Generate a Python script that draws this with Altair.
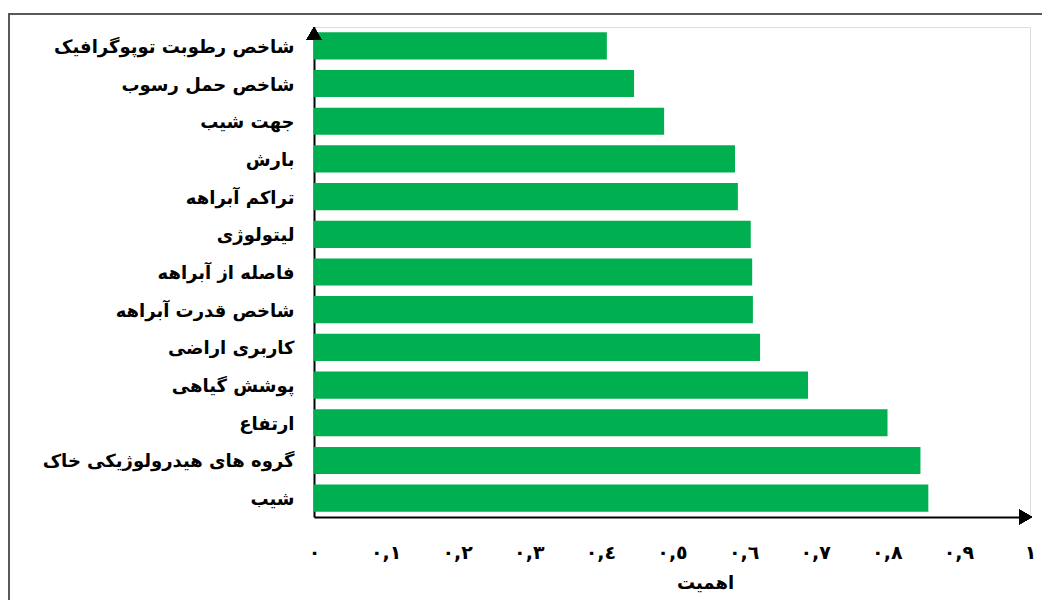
import json
import altair as alt
import pandas as pd

# --- data ---
CATEGORIES = [
    "شاخص رطوبت توپوگرافیک",
    "شاخص حمل رسوب",
    "جهت شیب",
    "بارش",
    "تراکم آبراهه",
    "لیتولوژی",
    "فاصله از آبراهه",
    "شاخص قدرت آبراهه",
    "کاربری اراضی",
    "پوشش گیاهی",
    "ارتفاع",
    "گروه های هیدرولوژیکی خاک",
    "شیب",
]
IMPORTANCE = [0.409, 0.447, 0.489, 0.588, 0.592, 0.610, 0.612, 0.613,
              0.623, 0.690, 0.801, 0.847, 0.858]
TICK_VALUES = [0, 0.1, 0.2, 0.3, 0.4, 0.5, 0.6, 0.7, 0.8, 0.9, 1]
TICK_LABELS = ["٠", "٠,١", "٠,٢", "٠,٣", "٠,٤", "٠,٥", "٠,٦", "٠,٧", "٠,٨", "٠,٩", "١"]
X_TITLE = "اهمیت"

df = pd.DataFrame({"factor": CATEGORIES, "value": IMPORTANCE})

FONT = "DejaVu Sans"
W, H = 716, 490

label_expr = json.dumps(TICK_LABELS, ensure_ascii=False) + "[round(datum.value*10)]"

bars = alt.Chart(df).mark_bar(color="#00B050").encode(
    x=alt.X(
        "value:Q",
        scale=alt.Scale(domain=[0, 1], nice=False, zero=True),
        axis=alt.Axis(
            values=TICK_VALUES,
            labelExpr=label_expr,
            title=X_TITLE,
            grid=False,
            ticks=False,
            domainColor="black",
            domainWidth=2,
            labelFont=FONT,
            labelFontSize=19,
            labelFontWeight="bold",
            labelColor="black",
            labelPadding=26,
            labelFlush=False,
            titleFont=FONT,
            titleFontSize=18,
            titleFontWeight="bold",
            titleColor="black",
            titlePadding=12,
            titleX=391,
        ),
    ),
    y=alt.Y(
        "factor:N",
        sort=None,
        scale=alt.Scale(paddingInner=0.28, paddingOuter=0.14),
        axis=alt.Axis(
            title=None,
            grid=False,
            ticks=False,
            domainColor="black",
            domainWidth=2,
            labelFont=FONT,
            labelFontSize=18,
            labelFontWeight="bold",
            labelColor="black",
            labelPadding=20,
            labelOffset=2,
            labelLimit=400,
        ),
    ),
)

arrow_up = alt.Chart(df).mark_point(
    shape="M0,0L-1,1.73L1,1.73Z", filled=True, color="black", opacity=1, size=225
).encode(x=alt.value(0), y=alt.value(0))

arrow_right = alt.Chart(df).mark_point(
    shape="M0,0L-1.73,-1L-1.73,1Z", filled=True, color="black", opacity=1, size=225
).encode(x=alt.value(W + 2), y=alt.value(H))

frame = alt.Chart(df).mark_rect(
    fill="transparent", stroke="#595959", strokeWidth=1.5
).encode(
    x=alt.value(-305), x2=alt.value(W + 100),
    y=alt.value(-13), y2=alt.value(H + 200),
)

chart = alt.layer(frame, bars, arrow_up, arrow_right).properties(
    width=W,
    height=H,
    autosize=alt.AutoSizeParams(type="none"),
    padding={"left": 306, "top": 19, "right": 12, "bottom": 83},
).configure_view(stroke="transparent", strokeWidth=0).configure(background="white")

chart.save("out.html", embed_options={"renderer": "svg", "actions": False})
